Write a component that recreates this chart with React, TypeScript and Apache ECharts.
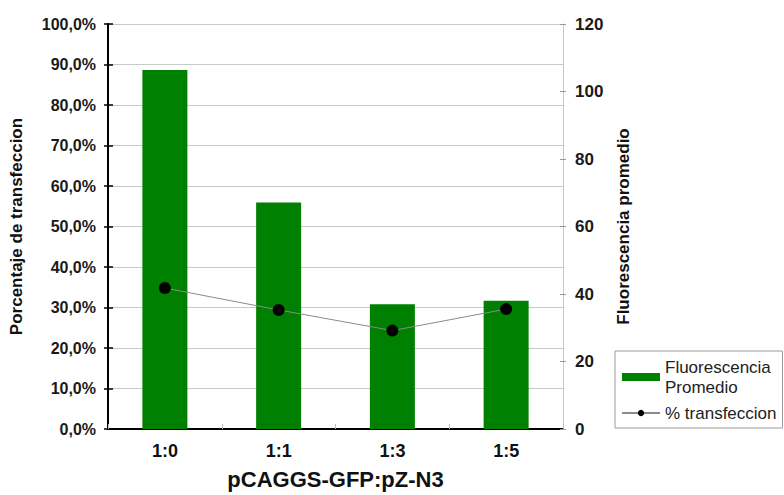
import React, { useEffect, useRef } from "react";
import * as echarts from "echarts";

const categories = ["1:0", "1:1", "1:3", "1:5"];
const fluorescencia = [106.4, 67.1, 37.0, 38.0];
const transfeccion = [34.8, 29.4, 24.3, 29.6];

const FONT = "'Liberation Sans', Arial, sans-serif";

export default function App() {
  const ref = useRef<HTMLDivElement>(null);
  useEffect(() => {
    if (!ref.current) return;
    const chart = echarts.init(ref.current, null, { renderer: "svg" });
    chart.setOption({
      animation: false,
      backgroundColor: "#ffffff",
      textStyle: { fontFamily: FONT },
      grid: { left: 108, right: 221, top: 24, bottom: 66, containLabel: false },
      legend: {
        orient: "vertical",
        left: 615,
        top: 351,
        padding: [6, 6, 5, 6],
        borderColor: "#9a9a9a",
        borderWidth: 1,
        itemGap: 6,
        itemWidth: 38,
        itemHeight: 8,
        textStyle: { fontFamily: FONT, fontSize: 17, color: "#222", lineHeight: 20 },
        formatter: (n: string) => (n === "Fluorescencia Promedio" ? "Fluorescencia\nPromedio" : n),
        data: [
          { name: "Fluorescencia Promedio", icon: "rect" },
          { name: "% transfeccion" },
        ],
      },
      xAxis: {
        type: "category",
        data: categories,
        name: "pCAGGS-GFP:pZ-N3",
        nameLocation: "middle",
        nameGap: 39,
        nameTextStyle: { fontFamily: FONT, fontSize: 22, fontWeight: "bold", color: "#111" },
        axisLine: { lineStyle: { color: "#000", width: 2 } },
        axisTick: { show: true, inside: true, length: 5, lineStyle: { color: "#bbb" } },
        axisLabel: { fontFamily: FONT, fontSize: 18, fontWeight: "bold", color: "#111", margin: 13 },
      },
      yAxis: [
        {
          type: "value",
          position: "left",
          min: 0,
          max: 100,
          interval: 10,
          name: "Porcentaje de transfeccion",
          nameLocation: "middle",
          nameRotate: 90,
          nameGap: 83,
          nameTextStyle: { fontFamily: FONT, fontSize: 17, fontWeight: "bold", color: "#111" },
          axisLine: { show: true, lineStyle: { color: "#000", width: 2 } },
          axisTick: { show: true, length: 4, lineStyle: { color: "#000", width: 1.5 } },
          axisLabel: {
            fontFamily: FONT,
            fontSize: 16,
            fontWeight: "bold",
            color: "#1a1a1a",
            margin: 12,
            formatter: (v: number) => v.toFixed(1).replace(".", ",") + "%",
          },
          splitLine: { show: true, lineStyle: { color: "#c8c8c8", width: 1 } },
        },
        {
          type: "value",
          position: "right",
          min: 0,
          max: 120,
          interval: 20,
          name: "Fluorescencia promedio",
          nameLocation: "middle",
          nameRotate: 90,
          nameGap: 52,
          nameTextStyle: { fontFamily: FONT, fontSize: 17, fontWeight: "bold", color: "#111" },
          axisLine: { show: true, lineStyle: { color: "#c8c8c8", width: 1 } },
          axisTick: { show: true, length: 3, lineStyle: { color: "#999" } },
          axisLabel: { fontFamily: FONT, fontSize: 17, fontWeight: "bold", color: "#1a1a1a", margin: 12 },
          splitLine: { show: false },
        },
        {
          type: "value",
          position: "left",
          min: 0,
          max: 100,
          interval: 10,
          axisLine: { show: false },
          axisTick: { show: true, inside: true, length: 5, lineStyle: { color: "#000", width: 1.5 } },
          axisLabel: { show: false },
          splitLine: { show: false },
        },
        {
          type: "value",
          position: "right",
          min: 0,
          max: 120,
          interval: 20,
          axisLine: { show: false },
          axisTick: { show: true, inside: true, length: 3, lineStyle: { color: "#999" } },
          axisLabel: { show: false },
          splitLine: { show: false },
        },
      ],
      series: [
        {
          name: "Fluorescencia Promedio",
          type: "bar",
          yAxisIndex: 1,
          data: fluorescencia,
          barWidth: 45,
          itemStyle: { color: "#008000" },
        },
        {
          name: "% transfeccion",
          type: "line",
          yAxisIndex: 0,
          data: transfeccion,
          symbol: "circle",
          symbolSize: 12,
          lineStyle: { color: "#8a8a8a", width: 1 },
          itemStyle: { color: "#000" },
          z: 5,
        },
      ],
    });
    return () => chart.dispose();
  }, []);
  return <div ref={ref} style={{ width: 784, height: 495, position: "absolute", left: 0, top: 0 }} />;
}
